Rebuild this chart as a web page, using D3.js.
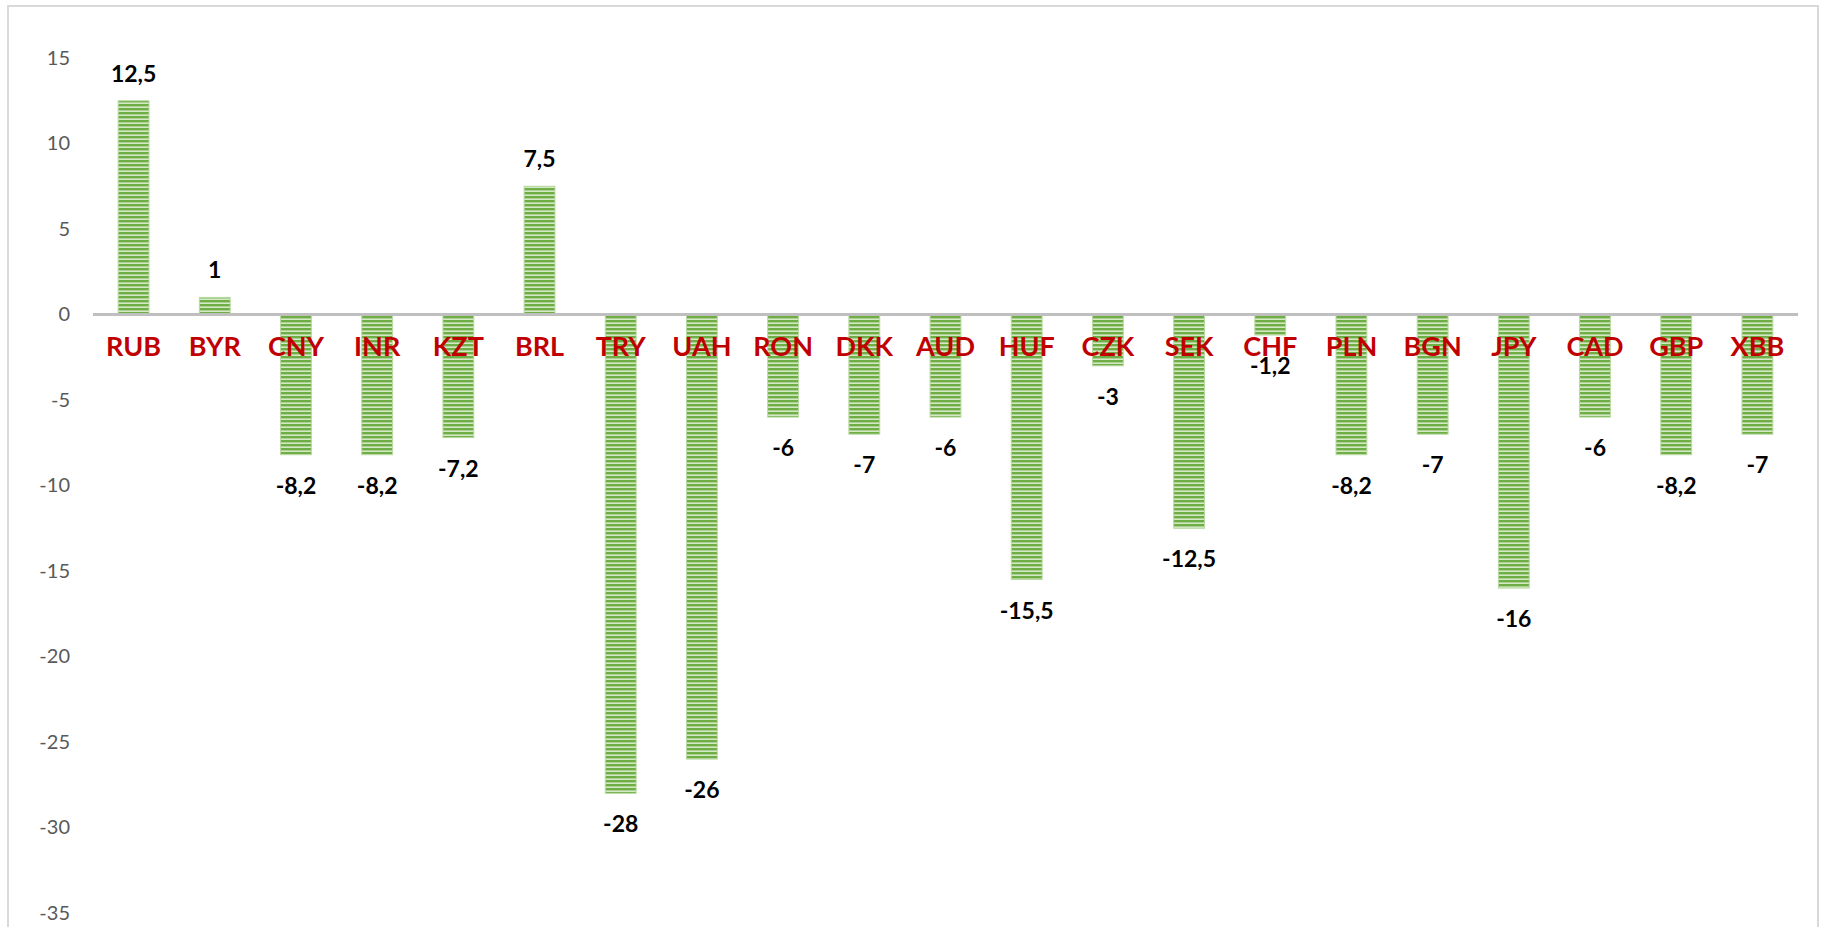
<!DOCTYPE html>
<html>
<head>
<meta charset="utf-8">
<script src="https://cdn.jsdelivr.net/npm/d3@7"></script>
<style>
  html, body { margin: 0; padding: 0; background: #ffffff; }
  svg { display: block; }
</style>
</head>
<body>
<svg id="chart" width="1824" height="927"></svg>
<script>
// Currency codes and percentage change per currency
const currencies = ["RUB", "BYR", "CNY", "INR", "KZT", "BRL", "TRY", "UAH", "RON", "DKK", "AUD",
                    "HUF", "CZK", "SEK", "CHF", "PLN", "BGN", "JPY", "CAD", "GBP", "XBB"];
const changes = [12.5, 1, -8.2, -8.2, -7.2, 7.5, -28, -26, -6, -7, -6,
                 -15.5, -3, -12.5, -1.2, -8.2, -7, -16, -6, -8.2, -7];
const yTicks = [15, 10, 5, 0, -5, -10, -15, -20, -25, -30, -35];

const data = currencies.map((c, i) => ({ code: c, value: changes[i] }));

const svg = d3.select("#chart");
const W = 1824, H = 927;

// Outer frame
svg.append("rect")
  .attr("x", 8).attr("y", 6)
  .attr("width", 1810).attr("height", H + 10)
  .attr("fill", "#ffffff")
  .attr("stroke", "#d9d9d9").attr("stroke-width", 2);

// Horizontal-stripe fill for the bars
const defs = svg.append("defs");
const pat = defs.append("pattern")
  .attr("id", "stripes")
  .attr("patternUnits", "userSpaceOnUse")
  .attr("width", 8).attr("height", 4);
pat.append("rect").attr("width", 8).attr("height", 4).attr("fill", "#d4e9c5");
pat.append("rect").attr("y", 0).attr("width", 8).attr("height", 2.4).attr("fill", "#6fad45");

const x = d3.scaleBand()
  .domain(currencies)
  .range([93, 1798])
  .paddingInner(0.62)
  .paddingOuter(0.31);

const y = d3.scaleLinear()
  .domain([-35, 15])
  .range([913, 58]);

const fmt = v => String(v).replace(".", ",");

// Y axis labels (no axis line, no ticks)
const yAxis = d3.axisLeft(y).tickValues(yTicks).tickSize(0).tickPadding(0)
  .tickFormat(d => String(d));
const yG = svg.append("g").attr("transform", "translate(70,0)").call(yAxis);
yG.select(".domain").remove();
yG.selectAll("text")
  .attr("fill", "#595959")
  .style("font-family", "Lato, 'Open Sans', sans-serif")
  .style("font-size", "20px");

// Bars
svg.append("g").selectAll("rect")
  .data(data)
  .join("rect")
  .attr("x", d => x(d.code))
  .attr("y", d => y(Math.max(0, d.value)))
  .attr("width", x.bandwidth())
  .attr("height", d => Math.abs(y(d.value) - y(0)))
  .attr("fill", "url(#stripes)")
  .attr("stroke", "#b9d9a3")
  .attr("stroke-width", 1);

// Zero line
svg.append("line")
  .attr("x1", 93).attr("x2", 1798)
  .attr("y1", y(0)).attr("y2", y(0))
  .attr("stroke", "#bfbfbf").attr("stroke-width", 3);

// Category labels sit just under the zero line
const xAxis = d3.axisBottom(x).tickSize(0).tickPadding(0);
const xG = svg.append("g").attr("transform", `translate(0,${y(0)})`).call(xAxis);
xG.select(".domain").remove();
xG.selectAll("text")
  .attr("y", 0)
  .attr("dy", 41)
  .attr("fill", "#c00000")
  .style("font-family", "Lato, 'Open Sans', sans-serif")
  .style("font-weight", "bold")
  .style("font-size", "27px");

// Value labels outside the bar ends
svg.append("g").selectAll("text")
  .data(data)
  .join("text")
  .attr("x", d => x(d.code) + x.bandwidth() / 2)
  .attr("y", d => d.value >= 0 ? y(d.value) - 19 : y(d.value) + 39)
  .attr("text-anchor", "middle")
  .attr("fill", "#000000")
  .style("font-family", "Lato, 'Open Sans', sans-serif")
  .style("font-weight", "bold")
  .style("font-size", "23px")
  .text(d => fmt(d.value));
</script>
</body>
</html>
